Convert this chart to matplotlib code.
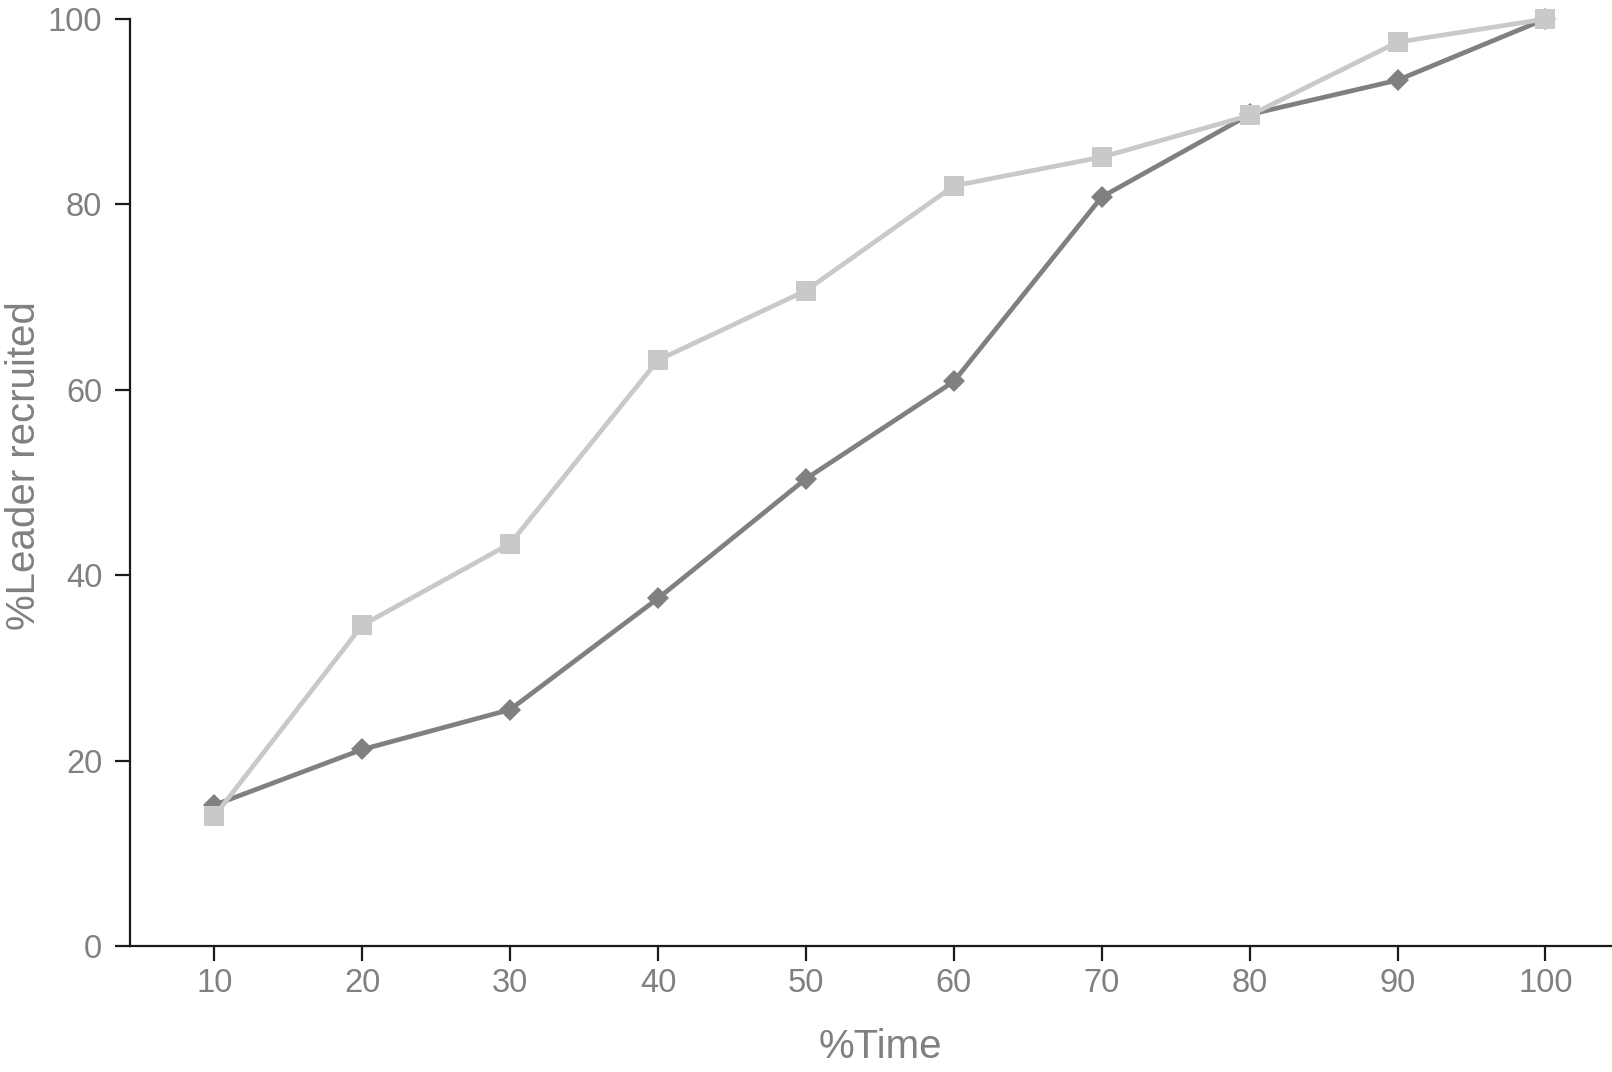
import matplotlib
matplotlib.use("Agg")
import matplotlib.pyplot as plt

plt.rcParams['font.family'] = ['Liberation Sans', 'DejaVu Sans']

time_pct = [10, 20, 30, 40, 50, 60, 70, 80, 90, 100]
dark_series = [15.2, 21.2, 25.5, 37.5, 50.4, 60.9, 80.8, 89.7, 93.4, 100]
light_series = [14.0, 34.6, 43.4, 63.2, 70.7, 82.0, 85.1, 89.6, 97.5, 100]

tick_color = '#808080'

fig = plt.figure(figsize=(16.12, 10.72), dpi=100)
ax = fig.add_axes([130 / 1612, 126 / 1072, 1482 / 1612, 927 / 1072])

ax.plot(time_pct, dark_series, color='#808080', linewidth=3.4, marker='D',
        markersize=11, markeredgewidth=0, clip_on=False, zorder=3)
ax.plot(time_pct, light_series, color='#c8c9ca', linewidth=3.4, marker='s',
        markersize=14, markeredgewidth=0, clip_on=False, zorder=4)

ax.set_xlim(4.3, 104.5)
ax.set_ylim(0, 100)
ax.set_xticks(time_pct)
ax.set_yticks([0, 20, 40, 60, 80, 100])

for s in ['top', 'right']:
    ax.spines[s].set_visible(False)
for s in ['left', 'bottom']:
    ax.spines[s].set_linewidth(1.6)
    ax.spines[s].set_color('#1a1a1a')

ax.tick_params(axis='both', length=11, width=1.6, color='#1a1a1a',
               labelsize=23.5, labelcolor=tick_color)
ax.tick_params(axis='x', pad=5)
ax.tick_params(axis='y', pad=9)

ax.set_xlabel('%Time', fontsize=29, color=tick_color)
ax.set_ylabel('%Leader recruited', fontsize=29, color=tick_color)
ax.xaxis.set_label_coords(0.506, -0.088)
ax.yaxis.set_label_coords(-0.059, 0.518)

fig.savefig('out.png', dpi=100)
